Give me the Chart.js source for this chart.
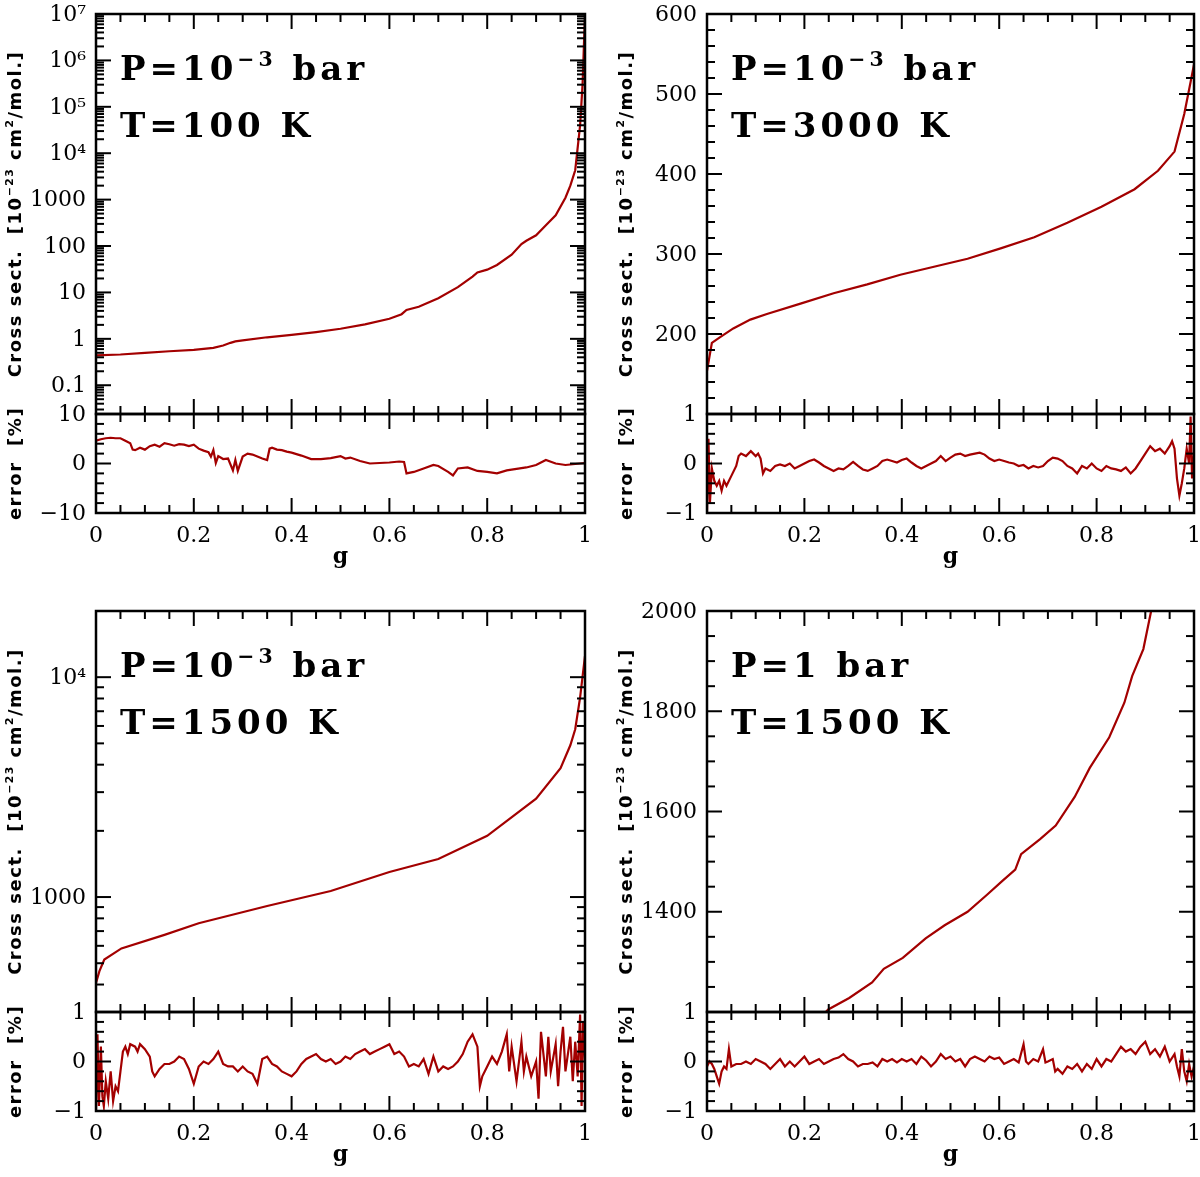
<!DOCTYPE html>
<html>
<head>
<meta charset="utf-8">
<script src="https://cdn.jsdelivr.net/npm/chart.js@4.4.1/dist/chart.umd.min.js"></script>
<style>
  html, body { margin: 0; padding: 0; background: #fff; }
  #wrap { position: relative; width: 1200px; height: 1177px; background: #fff; overflow: hidden; }
  canvas { position: absolute; }
</style>
</head>
<body>
<div id="wrap">
  <canvas id="tlMain" width="600" height="590" style="left:0;top:0"></canvas>
  <canvas id="tlErr" width="600" height="590" style="left:0;top:0"></canvas>
  <canvas id="trMain" width="600" height="590" style="left:600px;top:0"></canvas>
  <canvas id="trErr" width="600" height="590" style="left:600px;top:0"></canvas>
  <canvas id="blMain" width="600" height="587" style="left:0;top:590px"></canvas>
  <canvas id="blErr" width="600" height="587" style="left:0;top:590px"></canvas>
  <canvas id="brMain" width="600" height="587" style="left:600px;top:590px"></canvas>
  <canvas id="brErr" width="600" height="587" style="left:600px;top:590px"></canvas>
</div>
<script>
const RED = '#a30000'

// g axis, same for every panel
const gTicks = [0, 0.2, 0.4, 0.6, 0.8, 1]
const gTickLabels = ['0', '0.2', '0.4', '0.6', '0.8', '1']

// P=1e-3 bar, T=100 K
const tlMainG = [0, 0.05, 0.1, 0.15, 0.2, 0.24, 0.26, 0.275, 0.285, 0.3, 0.35, 0.4, 0.45, 0.5, 0.55, 0.6, 0.625, 0.635, 0.66, 0.7, 0.74, 0.77, 0.78, 0.8, 0.82, 0.85, 0.87, 0.88, 0.9, 0.92, 0.94, 0.96, 0.97, 0.98, 0.99, 0.995, 1]
const tlMainV = [0.44, 0.46, 0.50, 0.54, 0.58, 0.64, 0.72, 0.82, 0.88, 0.93, 1.08, 1.22, 1.4, 1.65, 2.05, 2.7, 3.4, 4.2, 4.9, 7.5, 13, 22, 27, 31, 39, 65, 110, 130, 170, 280, 460, 1100, 2000, 4300, 4e4, 3e5, 1e7]
const tlMainTicks = [0.1, 1, 10, 100, 1000, 1e4, 1e5, 1e6, 1e7]
const tlMainTickLabels = ['0.1', '1', '10', '100', '1000', '10⁴', '10⁵', '10⁶', '10⁷']
const tlErrG = [0, 0.01, 0.02, 0.03, 0.04, 0.05, 0.06, 0.07, 0.075, 0.08, 0.09, 0.1, 0.11, 0.12, 0.13, 0.14, 0.15, 0.16, 0.17, 0.18, 0.19, 0.2, 0.21, 0.22, 0.23, 0.235, 0.24, 0.245, 0.25, 0.26, 0.27, 0.28, 0.285, 0.29, 0.3, 0.31, 0.32, 0.33, 0.34, 0.35, 0.355, 0.36, 0.37, 0.38, 0.39, 0.4, 0.42, 0.44, 0.46, 0.48, 0.5, 0.51, 0.52, 0.54, 0.56, 0.58, 0.6, 0.62, 0.63, 0.635, 0.65, 0.67, 0.69, 0.7, 0.72, 0.73, 0.74, 0.76, 0.78, 0.8, 0.82, 0.84, 0.86, 0.88, 0.9, 0.92, 0.94, 0.96, 0.98, 1]
const tlErrV = [4.6, 4.9, 5.1, 5.2, 5.1, 5.1, 4.6, 4.1, 2.8, 2.7, 3.2, 2.8, 3.5, 3.8, 3.4, 4.1, 3.9, 3.6, 3.9, 3.8, 3.5, 3.8, 3.0, 2.6, 2.3, 1.4, 2.7, 0.1, 1.5, 0.9, 1.0, -1.4, 0.7, -1.5, 1.4, 2.0, 1.8, 1.4, 1.0, 0.7, 3.0, 3.2, 2.8, 2.7, 2.4, 2.2, 1.6, 0.9, 0.9, 1.1, 1.5, 1.0, 1.2, 0.5, 0.0, 0.1, 0.2, 0.4, 0.3, -2.0, -1.7, -1.0, -0.3, -0.5, -1.7, -2.4, -1.0, -0.8, -1.5, -1.7, -2.0, -1.4, -1.1, -0.8, -0.3, 0.7, 0.0, -0.3, -0.1, 0.1]
const tlErrTicks = [-10, 0, 10]
const tlErrTickLabels = ['−10', '0', '10']

// P=1e-3 bar, T=3000 K
const trMainG = [0, 0.01, 0.027, 0.054, 0.089, 0.123, 0.192, 0.26, 0.329, 0.397, 0.466, 0.535, 0.603, 0.672, 0.74, 0.81, 0.878, 0.926, 0.96, 0.98, 0.993, 1]
const trMainV = [154, 189, 196, 207, 218, 225, 238, 251, 262, 274, 284, 294, 307, 321, 339, 359, 381, 404, 428, 475, 515, 537]
const trMainTicks = [200, 300, 400, 500, 600]
const trMainTickLabels = ['200', '300', '400', '500', '600']
const trErrG = [0, 0.003, 0.006, 0.01, 0.015, 0.02, 0.025, 0.03, 0.035, 0.04, 0.05, 0.06, 0.065, 0.07, 0.08, 0.09, 0.1, 0.105, 0.11, 0.115, 0.12, 0.13, 0.14, 0.15, 0.16, 0.17, 0.18, 0.19, 0.2, 0.21, 0.22, 0.23, 0.24, 0.25, 0.26, 0.27, 0.28, 0.29, 0.3, 0.31, 0.32, 0.33, 0.34, 0.35, 0.36, 0.37, 0.38, 0.39, 0.4, 0.41, 0.42, 0.43, 0.44, 0.45, 0.46, 0.47, 0.48, 0.49, 0.5, 0.51, 0.52, 0.53, 0.54, 0.55, 0.56, 0.57, 0.58, 0.59, 0.6, 0.61, 0.62, 0.63, 0.64, 0.65, 0.66, 0.67, 0.68, 0.69, 0.7, 0.71, 0.72, 0.73, 0.74, 0.75, 0.76, 0.77, 0.78, 0.79, 0.8, 0.81, 0.82, 0.83, 0.84, 0.85, 0.86, 0.87, 0.88, 0.89, 0.9, 0.91, 0.92, 0.93, 0.94, 0.95, 0.955, 0.96, 0.965, 0.97, 0.975, 0.98, 0.985, 0.99, 0.993, 0.996, 1]
const trErrV = [-1.0, 0.5, -0.8, -0.1, -0.35, -0.45, -0.35, -0.55, -0.35, -0.45, -0.25, -0.05, 0.15, 0.2, 0.15, 0.25, 0.15, 0.2, 0.1, -0.2, -0.1, -0.15, -0.05, -0.02, -0.05, 0.0, -0.1, -0.05, 0.0, 0.05, 0.08, 0.02, -0.05, -0.1, -0.15, -0.1, -0.12, -0.05, 0.03, -0.05, -0.12, -0.15, -0.1, -0.05, 0.05, 0.08, 0.05, 0.02, 0.07, 0.1, 0.02, -0.05, -0.1, -0.05, 0.0, 0.05, 0.15, 0.05, 0.12, 0.18, 0.2, 0.15, 0.18, 0.2, 0.22, 0.18, 0.1, 0.05, 0.08, 0.05, 0.02, 0.0, -0.05, -0.03, -0.1, -0.05, -0.08, -0.05, 0.05, 0.12, 0.1, 0.05, -0.05, -0.1, -0.2, -0.05, -0.1, 0.0, -0.1, -0.15, -0.05, -0.1, -0.12, -0.15, -0.08, -0.2, -0.1, 0.05, 0.2, 0.35, 0.25, 0.3, 0.2, 0.35, 0.45, 0.3, -0.3, -0.65, -0.4, -0.1, 0.3, 0.0, 0.95, -0.3, 0.2]

// P=1e-3 bar, T=1500 K
const blMainG = [0, 0.007, 0.017, 0.052, 0.14, 0.21, 0.35, 0.48, 0.6, 0.7, 0.8, 0.9, 0.95, 0.97, 0.98, 0.99, 1]
const blMainV = [407, 460, 520, 584, 673, 760, 910, 1065, 1300, 1490, 1900, 2800, 3860, 4900, 5800, 8100, 12500]
const blMainTicks = [1000, 1e4]
const blMainTickLabels = ['1000', '10⁴']
const blErrG = [0, 0.003, 0.006, 0.01, 0.013, 0.016, 0.02, 0.025, 0.03, 0.035, 0.04, 0.045, 0.05, 0.055, 0.06, 0.065, 0.07, 0.08, 0.085, 0.09, 0.1, 0.11, 0.115, 0.12, 0.13,
  0.14, 0.15, 0.16, 0.17, 0.18, 0.19, 0.2, 0.21, 0.22, 0.23, 0.24, 0.25, 0.26, 0.27, 0.28, 0.29, 0.3, 0.31, 0.32, 0.33, 0.34, 0.35, 0.36, 0.37, 0.38, 0.39, 0.4, 0.41, 0.42, 0.43, 0.44, 0.45, 0.46, 0.47, 0.48, 0.49, 0.5, 0.51, 0.52, 0.53, 0.54, 0.55, 0.56, 0.57, 0.58, 0.59, 0.6, 0.61, 0.62, 0.63, 0.64, 0.65, 0.66, 0.67, 0.68, 0.69, 0.7, 0.71, 0.72, 0.73, 0.74, 0.75, 0.76, 0.77,
  0.78, 0.785, 0.79, 0.8, 0.81, 0.82, 0.83, 0.84, 0.845, 0.85, 0.86, 0.87, 0.875, 0.88, 0.89, 0.9, 0.905, 0.91, 0.92, 0.925, 0.93, 0.94, 0.945, 0.95, 0.955, 0.96, 0.97, 0.975, 0.98, 0.985, 0.99, 0.993, 0.996, 1]
const blErrV = [-1.0, 0.55, -0.9, 0.3, -0.7, -0.9, -0.4, -0.75, -0.2, -0.8, -0.5, -0.6, -0.2, 0.2, 0.3, 0.15, 0.35, 0.3, 0.2, 0.35, 0.25, 0.1, -0.2, -0.3, -0.15,
  -0.05, -0.05, 0.0, 0.1, 0.05, -0.15, -0.45, -0.1, 0.0, -0.05, 0.05, 0.2, -0.05, -0.1, -0.1, -0.2, -0.1, -0.2, -0.25, -0.45, 0.05, 0.1, -0.05, -0.1, -0.2, -0.25, -0.3, -0.2, -0.05, 0.05, 0.1, 0.15, 0.05, 0.0, 0.05, -0.05, 0.0, 0.1, 0.05, 0.15, 0.2, 0.25, 0.15, 0.2, 0.25, 0.3, 0.35, 0.15, 0.2, 0.1, -0.1, -0.05, -0.1, 0.05, -0.25, 0.1, -0.2, -0.1, -0.15, -0.1, 0.0, 0.15, 0.4, 0.55,
  0.3, -0.5, -0.3, -0.1, 0.1, -0.05, 0.2, 0.55, -0.2, 0.3, -0.4, 0.4, -0.2, 0.1, -0.3, 0.0, -0.75, 0.6, -0.3, 0.5, -0.2, 0.35, -0.5, 0.2, 0.7, -0.2, 0.5, -0.4, 0.4, -0.3, 0.95, -0.9, 0.8, 0.0]

// P=1 bar, T=1500 K
const brMainG = [0.24, 0.249, 0.292, 0.339, 0.363, 0.402, 0.449, 0.488, 0.535, 0.575, 0.606, 0.633, 0.645, 0.684, 0.716, 0.755, 0.786, 0.826, 0.857, 0.873, 0.896, 0.912, 0.925]
const brMainV = [1196, 1205, 1228, 1259, 1286, 1308, 1347, 1373, 1400, 1434, 1461, 1484, 1515, 1545, 1572, 1629, 1687, 1748, 1817, 1870, 1924, 2000, 2080]
const brMainTicks = [1400, 1600, 1800, 2000]
const brMainTickLabels = ['1400', '1600', '1800', '2000']
const brErrG = [0, 0.005, 0.01, 0.015, 0.02, 0.025, 0.03, 0.035, 0.04, 0.045, 0.05,
  0.06, 0.07, 0.08, 0.09, 0.1, 0.11, 0.12, 0.13, 0.14, 0.15, 0.16, 0.17, 0.18, 0.19, 0.2, 0.21, 0.22, 0.23, 0.24, 0.25, 0.26, 0.27, 0.28, 0.29, 0.3, 0.31, 0.32, 0.33, 0.34, 0.35, 0.36, 0.37, 0.38, 0.39, 0.4, 0.41, 0.42, 0.43, 0.44, 0.45, 0.46, 0.47, 0.48, 0.49, 0.5, 0.51, 0.52, 0.53, 0.54, 0.55, 0.56, 0.57, 0.58, 0.59, 0.6, 0.61, 0.62, 0.63, 0.64,
  0.65, 0.655, 0.66, 0.67, 0.68, 0.69, 0.695, 0.7, 0.71, 0.715, 0.72, 0.73, 0.74, 0.75, 0.76, 0.77, 0.78, 0.79, 0.8, 0.81, 0.82, 0.83, 0.84, 0.85, 0.86, 0.87, 0.88, 0.89, 0.9, 0.91, 0.92, 0.93, 0.94, 0.95, 0.96, 0.965, 0.97, 0.975, 0.98, 0.985, 0.99, 0.995, 1]
const brErrV = [-0.1, 0.0, -0.05, -0.15, -0.3, -0.45, -0.2, -0.1, -0.15, 0.25, -0.1,
  -0.05, -0.05, 0.0, -0.05, 0.05, 0.0, -0.05, -0.15, -0.05, 0.05, -0.1, 0.0, -0.1, 0.0, 0.1, -0.05, 0.0, 0.05, -0.05, 0.0, 0.05, 0.08, 0.15, 0.05, 0.0, -0.1, -0.05, -0.05, -0.02, -0.1, 0.05, 0.0, 0.05, -0.02, 0.05, 0.0, 0.05, -0.05, 0.1, 0.02, -0.1, 0.0, 0.15, 0.05, 0.1, 0.0, 0.05, -0.1, 0.05, 0.1, 0.05, 0.0, 0.1, 0.05, 0.08, -0.05, 0.0, 0.05, -0.02,
  0.35, 0.0, -0.05, 0.05, 0.0, 0.25, -0.02, 0.0, 0.05, -0.2, -0.15, -0.25, -0.1, -0.15, -0.05, -0.2, -0.05, -0.15, 0.05, -0.1, 0.05, 0.0, 0.15, 0.3, 0.2, 0.25, 0.15, 0.3, 0.4, 0.15, 0.25, 0.1, 0.3, 0.0, 0.15, -0.1, -0.3, 0.25, -0.2, -0.4, -0.05, -0.3, -0.1]

const errTicks = [-1, 0, 1]
const errTickLabels = ['−1', '0', '1']

const yTitleMain = [['Cross sect.  [10', 0], ['−23', 1], [' cm', 0], ['2', 1], ['/mol.]', 0]]
const yTitleErr = [['error  [%]', 0]]

function richWidth(ctx, parts, size, font) {
  let w = 0
  parts.forEach(([t, sup]) => {
    ctx.font = font.replace('SIZE', (sup ? size * 0.6 : size) + 'px')
    w += ctx.measureText(t).width
  })
  return w
}
function drawRich(ctx, parts, x, y, size, font) {
  let cx = x
  parts.forEach(([t, sup]) => {
    ctx.font = font.replace('SIZE', (sup ? size * 0.6 : size) + 'px')
    ctx.fillText(t, cx, sup ? y - size * 0.42 : y)
    cx += ctx.measureText(t).width
  })
}

// frame, inward ticks on all sides, tick labels and panel texts
const framePlugin = {
  id: 'frame',
  afterDraw(chart, args, o) {
    const ctx = chart.ctx, a = chart.chartArea
    const xs = chart.scales.x, ys = chart.scales.y
    const seg = (x1, y1, x2, y2) => { ctx.beginPath(); ctx.moveTo(x1, y1); ctx.lineTo(x2, y2); ctx.stroke() }
    ctx.save()
    ctx.strokeStyle = '#000'
    ctx.fillStyle = '#000'
    ctx.lineWidth = 2

    for (let i = 0; i <= 20; i++) {
      const px = xs.getPixelForValue(i * 0.05)
      const len = i % 4 === 0 ? 15 : 8
      seg(px, a.top, px, a.top + len)
      seg(px, a.bottom, px, a.bottom - len)
    }

    const yt = []
    if (o.minor === 'log') {
      for (let e = Math.floor(Math.log10(ys.min)); e <= Math.ceil(Math.log10(ys.max)); e++) {
        for (let k = 1; k <= 9; k++) {
          const v = k * Math.pow(10, e)
          if (v >= ys.min * 0.999 && v <= ys.max * 1.001) yt.push([v, k === 1])
        }
      }
    } else {
      const n = Math.round((ys.max - ys.min) / o.minor)
      for (let i = 0; i <= n; i++) {
        const v = ys.min + i * o.minor
        yt.push([v, Math.abs(Math.round(v / o.major) * o.major - v) < o.minor / 10])
      }
    }
    yt.forEach(([v, major]) => {
      const py = ys.getPixelForValue(v)
      const len = major ? 15 : 8
      seg(a.left, py, a.left + len, py)
      seg(a.right, py, a.right - len, py)
    })

    ctx.lineWidth = 2.5
    ctx.strokeRect(a.left, a.top, a.right - a.left, a.bottom - a.top)

    ctx.font = '22px "DejaVu Serif"'
    ctx.textAlign = 'right'
    ctx.textBaseline = 'middle'
    o.yTicks.forEach((v, i) => ctx.fillText(o.yLabels[i], a.left - 10, ys.getPixelForValue(v) + 1))

    if (o.xLabels) {
      ctx.textAlign = 'center'
      gTicks.forEach((v, i) => ctx.fillText(gTickLabels[i], xs.getPixelForValue(v), a.bottom + 23))
      ctx.font = 'bold 22px "DejaVu Serif"'
      ctx.fillText('g', (a.left + a.right) / 2, a.bottom + 44)
    }

    ctx.textAlign = 'left'
    ctx.textBaseline = 'alphabetic'
    if (o.title) {
      const tfont = 'bold SIZE "DejaVu Sans"'
      ctx.letterSpacing = '1.5px'
      const w = richWidth(ctx, o.title, 18, tfont)
      ctx.save()
      ctx.translate(a.left - 82, (a.top + a.bottom) / 2)
      ctx.rotate(-Math.PI / 2)
      drawRich(ctx, o.title, -w / 2, 7, 18, tfont)
      ctx.restore()
      ctx.letterSpacing = '0px'
    }
    if (o.note) {
      ctx.letterSpacing = '4px'
      o.note.forEach((line, i) => drawRich(ctx, line, a.left + 24, a.top + 66 + i * 57, 34, 'bold SIZE "DejaVu Serif"'))
      ctx.letterSpacing = '0px'
    }
    ctx.restore()
  }
}

function makeChart(id, area, yType, yMin, yMax, g, v, deco) {
  const cv = document.getElementById(id)
  return new Chart(cv, {
    type: 'line',
    data: {
      datasets: [{
        data: g.map((x, i) => ({ x: x, y: v[i] })),
        borderColor: RED,
        borderWidth: 2.2,
        pointRadius: 0,
        tension: 0,
        fill: false
      }]
    },
    options: {
      responsive: false,
      animation: false,
      devicePixelRatio: 1,
      events: [],
      layout: { padding: { left: area[0], right: cv.width - area[1], top: area[2], bottom: cv.height - area[3] } },
      scales: {
        x: { type: 'linear', min: 0, max: 1, display: false },
        y: { type: yType, min: yMin, max: yMax, display: false }
      },
      plugins: { legend: { display: false }, tooltip: { enabled: false }, frame: deco }
    },
    plugins: [framePlugin]
  })
}

let tl_main = makeChart('tlMain', [96, 585, 14, 414], 'logarithmic', 0.024, 1e7, tlMainG, tlMainV,
  { yTicks: tlMainTicks, yLabels: tlMainTickLabels, minor: 'log', title: yTitleMain,
    note: [[['P=10', 0], ['−3', 1], [' bar', 0]], [['T=100 K', 0]]] })
let tl_err = makeChart('tlErr', [96, 585, 414, 513], 'linear', -10, 10, tlErrG, tlErrV,
  { yTicks: tlErrTicks, yLabels: tlErrTickLabels, minor: 2, major: 10, xLabels: true, title: yTitleErr })

let tr_main = makeChart('trMain', [107, 594, 14, 414], 'linear', 100, 600, trMainG, trMainV,
  { yTicks: trMainTicks, yLabels: trMainTickLabels, minor: 20, major: 100, title: yTitleMain,
    note: [[['P=10', 0], ['−3', 1], [' bar', 0]], [['T=3000 K', 0]]] })
let tr_err = makeChart('trErr', [107, 594, 414, 513], 'linear', -1, 1, trErrG, trErrV,
  { yTicks: errTicks, yLabels: errTickLabels, minor: 0.2, major: 1, xLabels: true, title: yTitleErr })

let bl_main = makeChart('blMain', [96, 585, 21, 422], 'logarithmic', 300, 20000, blMainG, blMainV,
  { yTicks: blMainTicks, yLabels: blMainTickLabels, minor: 'log', title: yTitleMain,
    note: [[['P=10', 0], ['−3', 1], [' bar', 0]], [['T=1500 K', 0]]] })
let bl_err = makeChart('blErr', [96, 585, 422, 521], 'linear', -1, 1, blErrG, blErrV,
  { yTicks: errTicks, yLabels: errTickLabels, minor: 0.2, major: 1, xLabels: true, title: yTitleErr })

let br_main = makeChart('brMain', [107, 594, 21, 422], 'linear', 1200, 2000, brMainG, brMainV,
  { yTicks: brMainTicks, yLabels: brMainTickLabels, minor: 50, major: 200, title: yTitleMain,
    note: [[['P=1 bar', 0]], [['T=1500 K', 0]]] })
let br_err = makeChart('brErr', [107, 594, 422, 521], 'linear', -1, 1, brErrG, brErrV,
  { yTicks: errTicks, yLabels: errTickLabels, minor: 0.2, major: 1, xLabels: true, title: yTitleErr })
</script>
</body>
</html>
